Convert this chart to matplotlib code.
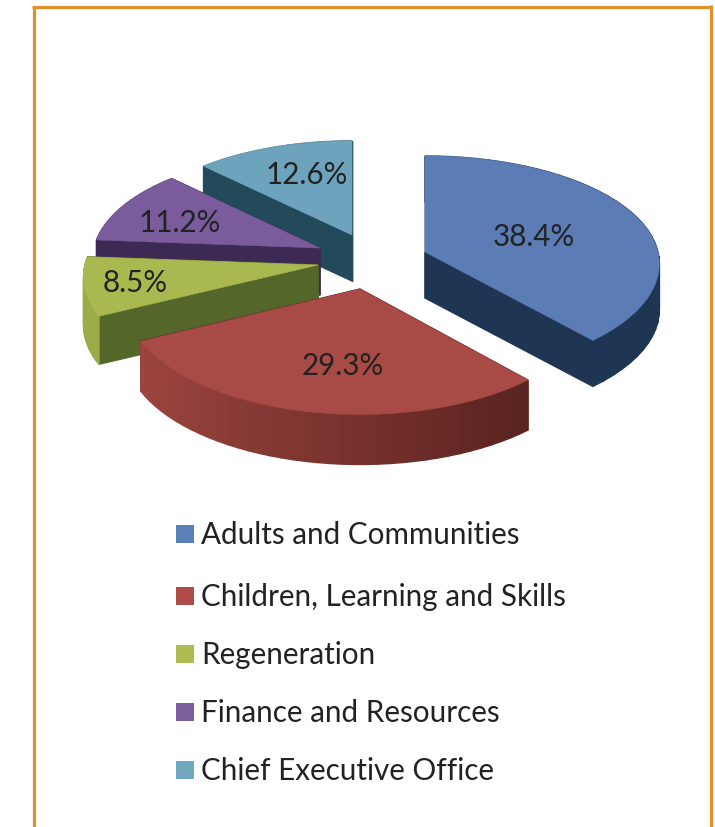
import numpy as np
import matplotlib
matplotlib.use('Agg')
import matplotlib.pyplot as plt
from matplotlib.colors import to_rgb
from matplotlib.patches import Polygon, Rectangle

departments = ['Adults and Communities', 'Children, Learning and Skills',
               'Regeneration', 'Finance and Resources', 'Chief Executive Office']
shares = [38.4, 29.3, 8.5, 11.2, 12.6]

top_colors = ['#5b7cb5', '#a84a45', '#a9b84f', '#7a5b9c', '#6ea3bd']
side_colors = ['#1f3554', '#5a231f', '#55662a', '#3c2a54', '#224a5b']
legend_colors = ['#5a80b8', '#ae4a47', '#adbb50', '#7d5f9d', '#70a8c2']

# layout in pixels, the slices are exploded by hand
apex_x = [425, 360, 318, 320, 352]
apex_y = [253, 290, 266, 249, 236]
scale_x = [1.0, 1.0, 1.0, 0.97, 0.97]
scale_y = [0.99, 1.02, 1.0, 0.98, 0.97]
depths = [46, 50, 48, 47, 46]
label_x = [534, 343, 135, 180, 307]
label_y = [237, 366, 283, 223, 175]
legend_y = [544, 606, 664, 722, 780]
draw_order = [4, 3, 2, 1, 0]

plt.rcParams['font.family'] = ['Lato', 'DejaVu Sans']

fig = plt.figure(figsize=(7.15, 8.28), dpi=100)
ax = fig.add_axes([0, 0, 1, 1])
ax.set_xlim(0, 715)
ax.set_ylim(828, 0)
ax.axis('off')

# frame, open at the bottom
ax.plot([33.5, 33.5], [828, 7.5], color='#e0922a', lw=2.3, solid_capstyle='butt')
ax.plot([32, 711.5], [7.5, 7.5], color='#e0922a', lw=2.3, solid_capstyle='butt')
ax.plot([711, 711], [6, 828], color='#e0922a', lw=2.3, solid_capstyle='butt')


def project(i, theta):
    # theta is clockwise from the top, near edge of the pie is bigger
    near = -np.cos(theta)
    x = apex_x[i] + scale_x[i] * 233 * np.sin(theta) * (1 + 0.11 * near)
    y = apex_y[i] + scale_y[i] * (110 * near + 13 * near ** 2)
    return x, y


def mix(c1, c2, t):
    c1, c2 = np.array(to_rgb(c1)), np.array(to_rgb(c2))
    return tuple(c1 + (c2 - c1) * t)


edges = np.radians(np.concatenate([[0], np.cumsum(shares)]) * 3.6)
for i in draw_order:
    cx, cy = apex_x[i], apex_y[i]
    depth = depths[i]
    th = np.linspace(edges[i], edges[i + 1], 40)
    ax_x, ax_y = project(i, th)

    # side faces, far ones first
    faces = []
    for k in [0, -1]:
        quad = [(cx, cy), (ax_x[k], ax_y[k]), (ax_x[k], ax_y[k] + depth), (cx, cy + depth)]
        faces.append((np.mean([q[1] for q in quad]), quad, side_colors[i]))
    for k in range(len(th) - 1):
        quad = [(ax_x[k], ax_y[k]), (ax_x[k + 1], ax_y[k + 1]),
                (ax_x[k + 1], ax_y[k + 1] + depth), (ax_x[k], ax_y[k] + depth)]
        t = np.clip((0.67 - np.sin(th[k])) / 1.56, 0, 1) * 0.85
        faces.append((np.mean([q[1] for q in quad]), quad, mix(side_colors[i], top_colors[i], t)))
    faces.sort(key=lambda f: f[0])
    for _, quad, col in faces:
        ax.add_patch(Polygon(quad, closed=True, facecolor=col, edgecolor=col, lw=1.0))

    pts = [(cx, cy)] + list(zip(ax_x, ax_y))
    ax.add_patch(Polygon(pts, closed=True, facecolor=top_colors[i], edgecolor=top_colors[i], lw=0.4))

for i in range(len(shares)):
    ax.text(label_x[i], label_y[i], '%.1f%%' % shares[i], ha='center', va='center',
            fontsize=21.3, color='#222222')
    ax.add_patch(Rectangle((176, legend_y[i] - 18), 18, 18, facecolor=legend_colors[i], edgecolor='none'))
    ax.text(201, legend_y[i], departments[i], ha='left', va='baseline',
            fontsize=21.3, color='#222222')

fig.savefig('out.png', dpi=100)
